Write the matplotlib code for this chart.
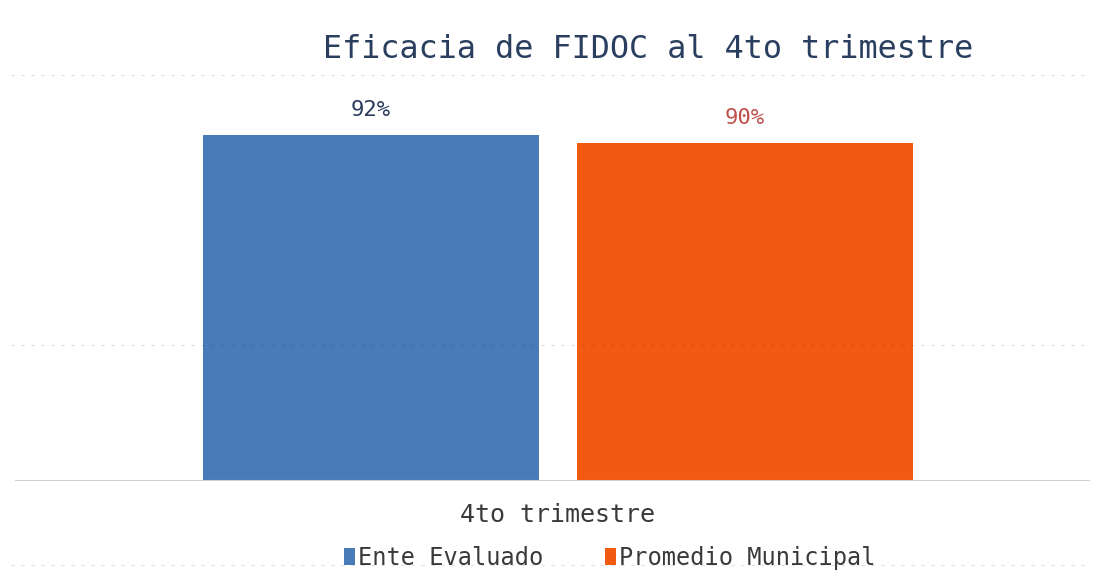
import matplotlib
matplotlib.use("Agg")
import matplotlib.pyplot as plt
from matplotlib.lines import Line2D

title = "Eficacia de FIDOC al 4to trimestre"
category = "4to trimestre"
series_names = ["Ente Evaluado", "Promedio Municipal"]
values = [0.92, 0.90]
value_labels = ["92%", "90%"]
colors = ["#4a7bb9", "#f25a12"]
label_colors = ["#2a3a5c", "#c0504d"]

plt.rcParams['font.family'] = ['DejaVu Sans Mono', 'DejaVu Sans']

fig = plt.figure(figsize=(11, 5.82), dpi=100)
fig.patch.set_facecolor("white")
ax = fig.add_axes([15/1100, 1 - 481/582, 1075/1100, 376/582])

offsets = [-0.174, 0.174]
width = 0.312
for i, (name, v) in enumerate(zip(series_names, values)):
    ax.bar(offsets[i], v, width=width, color=colors[i], label=name, zorder=2)
    ax.text(offsets[i], v + 0.066, value_labels[i], ha="center", va="center",
            fontsize=16, color=label_colors[i])

ax.set_xlim(-0.505, 0.495)
ax.set_ylim(0, 1.0)
ax.axhline(0, color="#d0d0d0", lw=1.5, zorder=3)
for s in ax.spines.values():
    s.set_visible(False)
ax.set_yticks([])
ax.set_xticks([0])
ax.set_xticklabels([category], fontsize=18, color="#3a3a3a")
ax.tick_params(axis="x", length=0, pad=16)

fig.text(0.5895, 1 - 50/582, title, ha="center", va="center", fontsize=22.9, color="#2a3f5f")

leg = fig.legend(loc="center", bbox_to_anchor=(0.5545, 1 - 558/582), ncol=2, frameon=False,
                 fontsize=17, handlelength=0.45, handleheight=0.7, handletextpad=0.15,
                 columnspacing=2.6, labelcolor="#3a3a3a")

# faint scan lines
for yy in [75, 345, 565]:
    fig.add_artist(Line2D([0.01, 0.99], [1 - yy/582, 1 - yy/582], color="black", alpha=0.12,
                          lw=0.8, ls=(0, (3, 6)), transform=fig.transFigure))

fig.savefig("out.png", dpi=100)
